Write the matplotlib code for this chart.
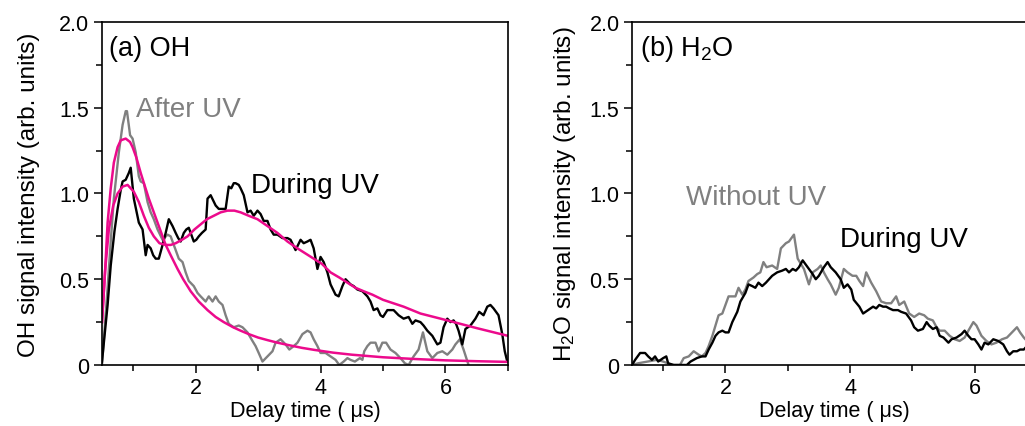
import matplotlib
matplotlib.use("Agg")
import matplotlib.pyplot as plt
from matplotlib.ticker import MultipleLocator, FuncFormatter

plt.rcParams['font.family'] = ['Liberation Sans', 'DejaVu Sans']
plt.rcParams['mathtext.fontset'] = 'custom'
plt.rcParams['mathtext.rm'] = 'Liberation Sans'
plt.rcParams['mathtext.it'] = 'Liberation Sans:italic'

# (a) OH, during UV (black)
oh_during_t = [0.50, 0.59, 0.64, 0.70, 0.75, 0.80, 0.83, 0.88, 0.93, 0.96, 1.01, 1.05, 1.09, 1.15,
               1.20, 1.23, 1.28, 1.32, 1.36, 1.41, 1.47, 1.52, 1.57, 1.60, 1.63, 1.68, 1.72, 1.76,
               1.81, 1.85, 1.89, 1.93, 1.97, 2.01, 2.05, 2.10, 2.16, 2.19, 2.24, 2.28, 2.32, 2.37,
               2.42, 2.48, 2.53, 2.57, 2.61, 2.64, 2.69, 2.72, 2.77, 2.83, 2.88, 2.93, 2.99, 3.04,
               3.09, 3.15, 3.20, 3.25, 3.31, 3.39, 3.47, 3.52, 3.60, 3.68, 3.73, 3.79, 3.84, 3.89,
               3.95, 4.00, 4.05, 4.11, 4.16, 4.24, 4.29, 4.35, 4.40, 4.48, 4.53, 4.59, 4.67, 4.75,
               4.80, 4.85, 4.91, 4.96, 5.00, 5.07, 5.17, 5.25, 5.33, 5.41, 5.47, 5.52, 5.60, 5.65,
               5.71, 5.79, 5.87, 5.92, 5.97, 6.03, 6.08, 6.13, 6.17, 6.21, 6.27, 6.32, 6.40, 6.48,
               6.54, 6.61, 6.67, 6.72, 6.77, 6.85, 6.91, 6.95, 6.99]
oh_during_v = [0.02, 0.35, 0.58, 0.78, 0.91, 1.02, 1.07, 1.08, 1.12, 1.15, 0.97, 0.90, 0.83, 0.79,
               0.64, 0.70, 0.68, 0.64, 0.62, 0.62, 0.70, 0.77, 0.85, 0.83, 0.81, 0.77, 0.74, 0.72,
               0.77, 0.79, 0.80, 0.76, 0.72, 0.73, 0.75, 0.77, 0.79, 0.97, 0.99, 0.96, 0.93, 0.91,
               0.91, 0.91, 1.04, 1.03, 1.06, 1.06, 1.05, 1.03, 0.99, 0.89, 0.90, 0.87, 0.90, 0.88,
               0.84, 0.84, 0.79, 0.76, 0.76, 0.74, 0.74, 0.73, 0.67, 0.73, 0.71, 0.72, 0.73, 0.68,
               0.56, 0.63, 0.60, 0.54, 0.47, 0.41, 0.40, 0.46, 0.50, 0.47, 0.46, 0.44, 0.43, 0.40,
               0.37, 0.32, 0.33, 0.29, 0.28, 0.32, 0.32, 0.29, 0.27, 0.28, 0.24, 0.26, 0.25, 0.23,
               0.20, 0.17, 0.12, 0.13, 0.22, 0.27, 0.25, 0.26, 0.24, 0.20, 0.12, 0.21, 0.23, 0.27,
               0.31, 0.29, 0.34, 0.35, 0.33, 0.29, 0.18, 0.08, 0.02]

# (a) OH, after UV (grey)
oh_after_t = [0.50, 0.59, 0.64, 0.69, 0.77, 0.83, 0.88, 0.90, 0.95, 0.99, 1.04, 1.09, 1.12, 1.17,
              1.23, 1.28, 1.33, 1.39, 1.47, 1.55, 1.60, 1.65, 1.73, 1.79, 1.84, 1.89, 1.97, 2.03,
              2.08, 2.16, 2.21, 2.27, 2.32, 2.37, 2.43, 2.48, 2.53, 2.61, 2.69, 2.75, 2.83, 2.91,
              2.96, 3.01, 3.07, 3.15, 3.23, 3.28, 3.36, 3.44, 3.50, 3.57, 3.63, 3.71, 3.79, 3.84,
              3.89, 3.95, 4.00, 4.08, 4.16, 4.24, 4.30, 4.37, 4.43, 4.48, 4.55, 4.63, 4.67, 4.70,
              4.75, 4.80, 4.88, 4.93, 4.99, 5.05, 5.12, 5.20, 5.28, 5.35, 5.41, 5.49, 5.57, 5.64,
              5.71, 5.79, 5.87, 5.95, 6.03, 6.11, 6.16, 6.23, 6.29, 6.37]
oh_after_v = [0.00, 0.45, 0.72, 0.97, 1.24, 1.40, 1.48, 1.48, 1.34, 1.32, 1.24, 1.10, 1.07, 1.06,
              0.95, 0.89, 0.85, 0.79, 0.73, 0.76, 0.75, 0.70, 0.62, 0.60, 0.54, 0.49, 0.46, 0.42,
              0.40, 0.37, 0.40, 0.37, 0.40, 0.37, 0.35, 0.29, 0.24, 0.22, 0.23, 0.22, 0.19, 0.14,
              0.11, 0.07, 0.02, 0.05, 0.08, 0.13, 0.15, 0.12, 0.09, 0.11, 0.13, 0.18, 0.20, 0.19,
              0.15, 0.11, 0.07, 0.07, 0.05, 0.03, 0.00, 0.02, 0.04, 0.03, 0.02, 0.04, 0.03, 0.08,
              0.11, 0.13, 0.13, 0.08, 0.13, 0.13, 0.09, 0.07, 0.04, 0.01, 0.00, 0.05, 0.09, 0.19,
              0.08, 0.04, 0.07, 0.08, 0.06, 0.09, 0.12, 0.15, 0.09, 0.00]

# fitted curves (pink)
fit_after_t = [0.50, 0.55, 0.59, 0.64, 0.69, 0.75, 0.80, 0.88, 0.95, 0.99, 1.05, 1.12, 1.18, 1.25,
               1.32, 1.39, 1.45, 1.52, 1.60, 1.71, 1.80, 1.92, 2.05, 2.19, 2.32, 2.45, 2.60, 2.72,
               2.85, 3.00, 3.15, 3.31, 3.50, 3.70, 3.90, 4.20, 4.50, 5.00, 5.50, 6.00, 6.50, 7.00]
fit_after_v = [0.25, 0.55, 0.83, 1.03, 1.18, 1.27, 1.31, 1.32, 1.30, 1.27, 1.21, 1.12, 1.05, 0.97,
               0.90, 0.83, 0.77, 0.70, 0.64, 0.56, 0.50, 0.43, 0.37, 0.32, 0.28, 0.25, 0.22, 0.20,
               0.18, 0.16, 0.145, 0.13, 0.115, 0.10, 0.088, 0.072, 0.06, 0.045, 0.035, 0.027, 0.022, 0.018]
fit_during_t = [0.50, 0.55, 0.61, 0.68, 0.75, 0.83, 0.91, 1.01, 1.09, 1.17, 1.25, 1.33, 1.42, 1.52,
                1.60, 1.68, 1.78, 1.87, 1.98, 2.08, 2.18, 2.29, 2.40, 2.51, 2.62, 2.72, 2.85, 2.99,
                3.15, 3.31, 3.47, 3.63, 3.76, 3.89, 4.02, 4.16, 4.30, 4.43, 4.56, 4.69, 4.83, 5.00,
                5.33, 5.60, 6.03, 6.50, 7.00]
fit_during_v = [0.25, 0.55, 0.79, 0.93, 1.00, 1.04, 1.05, 1.01, 0.95, 0.87, 0.80, 0.75, 0.71, 0.70,
                0.70, 0.71, 0.73, 0.75, 0.79, 0.82, 0.85, 0.87, 0.89, 0.90, 0.90, 0.89, 0.87, 0.85,
                0.81, 0.77, 0.72, 0.68, 0.65, 0.62, 0.59, 0.54, 0.51, 0.48, 0.45, 0.43, 0.41, 0.38,
                0.34, 0.30, 0.26, 0.215, 0.17]

# (b) H2O, during UV (black)
h2o_during_t = [0.50, 0.55, 0.63, 0.71, 0.76, 0.82, 0.87, 0.92, 1.00, 1.05, 1.08, 1.17, 1.38, 1.44,
                1.54, 1.62, 1.68, 1.73, 1.79, 1.84, 1.89, 1.95, 2.00, 2.05, 2.11, 2.19, 2.24, 2.32,
                2.37, 2.43, 2.48, 2.53, 2.59, 2.65, 2.70, 2.75, 2.83, 2.91, 2.97, 3.02, 3.08, 3.13,
                3.18, 3.24, 3.32, 3.40, 3.45, 3.50, 3.58, 3.64, 3.69, 3.77, 3.85, 3.90, 3.96, 4.02,
                4.06, 4.15, 4.21, 4.29, 4.37, 4.42, 4.47, 4.53, 4.58, 4.63, 4.69, 4.77, 4.82, 4.90,
                4.98, 5.03, 5.09, 5.17, 5.23, 5.27, 5.33, 5.39, 5.44, 5.50, 5.58, 5.63, 5.71, 5.79,
                5.84, 5.90, 5.95, 6.00, 6.06, 6.11, 6.16, 6.22, 6.30, 6.38, 6.46, 6.52, 6.56, 6.62,
                6.68, 6.73, 6.79, 6.84, 6.90]
h2o_during_v = [0.00, 0.03, 0.07, 0.07, 0.05, 0.03, 0.05, 0.02, 0.04, 0.05, 0.01, 0.00, 0.00, 0.02,
                0.04, 0.05, 0.05, 0.09, 0.13, 0.17, 0.19, 0.20, 0.19, 0.19, 0.25, 0.31, 0.37, 0.42,
                0.47, 0.46, 0.45, 0.48, 0.46, 0.48, 0.50, 0.52, 0.54, 0.55, 0.56, 0.54, 0.56, 0.55,
                0.57, 0.61, 0.57, 0.53, 0.50, 0.52, 0.57, 0.60, 0.57, 0.54, 0.50, 0.45, 0.47, 0.44,
                0.38, 0.34, 0.30, 0.32, 0.34, 0.33, 0.35, 0.34, 0.34, 0.33, 0.32, 0.32, 0.31, 0.30,
                0.26, 0.22, 0.20, 0.21, 0.25, 0.23, 0.21, 0.22, 0.17, 0.16, 0.13, 0.15, 0.16, 0.18,
                0.20, 0.17, 0.15, 0.15, 0.12, 0.09, 0.13, 0.12, 0.15, 0.14, 0.12, 0.08, 0.06, 0.08,
                0.08, 0.09, 0.09, 0.11, 0.12]

# (b) H2O, without UV (grey)
h2o_without_t = [0.50, 0.60, 0.75, 0.90, 1.00, 1.14, 1.27, 1.33, 1.41, 1.49, 1.57, 1.62, 1.68, 1.73,
                 1.79, 1.84, 1.89, 1.95, 2.00, 2.05, 2.11, 2.16, 2.21, 2.27, 2.32, 2.37, 2.45, 2.51,
                 2.56, 2.61, 2.66, 2.75, 2.83, 2.89, 2.97, 3.02, 3.10, 3.16, 3.21, 3.26, 3.34, 3.40,
                 3.48, 3.53, 3.58, 3.64, 3.69, 3.77, 3.82, 3.90, 3.96, 4.04, 4.10, 4.15, 4.21, 4.26,
                 4.34, 4.42, 4.50, 4.58, 4.66, 4.74, 4.79, 4.87, 4.95, 5.03, 5.11, 5.19, 5.25, 5.33,
                 5.39, 5.44, 5.52, 5.60, 5.68, 5.76, 5.84, 5.90, 5.98, 6.03, 6.11, 6.19, 6.27, 6.35,
                 6.44, 6.52, 6.60, 6.68, 6.73, 6.79, 6.84, 6.90]
h2o_without_v = [0.00, 0.01, 0.02, 0.03, 0.02, 0.00, 0.00, 0.04, 0.05, 0.08, 0.06, 0.05, 0.07, 0.11,
                 0.17, 0.23, 0.29, 0.30, 0.35, 0.40, 0.40, 0.40, 0.45, 0.41, 0.44, 0.49, 0.51, 0.53,
                 0.54, 0.60, 0.57, 0.58, 0.56, 0.68, 0.71, 0.72, 0.76, 0.62, 0.59, 0.56, 0.47, 0.54,
                 0.56, 0.58, 0.54, 0.50, 0.47, 0.41, 0.45, 0.56, 0.54, 0.52, 0.52, 0.49, 0.46, 0.54,
                 0.48, 0.43, 0.37, 0.36, 0.36, 0.40, 0.35, 0.37, 0.30, 0.28, 0.30, 0.29, 0.27, 0.26,
                 0.22, 0.20, 0.20, 0.17, 0.15, 0.14, 0.16, 0.20, 0.25, 0.23, 0.17, 0.14, 0.12, 0.13,
                 0.15, 0.16, 0.19, 0.22, 0.19, 0.16, 0.14, 0.13]

GREY = '#808080'
PINK = '#EC0A8C'


def style_axes(ax, ylabel, pad):
    ax.set_xlim(0.5, 7)
    ax.set_ylim(0, 2.0)
    ax.xaxis.set_major_locator(MultipleLocator(2))
    ax.xaxis.set_minor_locator(MultipleLocator(1))
    ax.yaxis.set_major_locator(MultipleLocator(0.5))
    ax.yaxis.set_minor_locator(MultipleLocator(0.25))
    ax.yaxis.set_major_formatter(FuncFormatter(lambda v, p: '0' if v == 0 else f'{v:.1f}'))
    ax.tick_params(which='both', direction='out', top=False, right=False, width=1.1,
                   labelsize=15.5, pad=3)
    ax.tick_params(which='major', length=6)
    ax.tick_params(which='minor', length=4)
    for s in ax.spines.values():
        s.set_linewidth(1.2)
    ax.set_xlabel('Delay time ( \u03bcs)', fontsize=15.5, labelpad=1)
    ax.set_ylabel(ylabel, fontsize=17.5, labelpad=pad)


fig = plt.figure(figsize=(10.25, 4.27), dpi=100)

ax1 = fig.add_axes([0.0995, 0.1429, 0.396, 0.8033])
ax1.plot(oh_after_t, oh_after_v, color=GREY, lw=1.7)
ax1.plot(oh_during_t, oh_during_v, color='black', lw=1.7)
ax1.plot(fit_after_t, fit_after_v, color=PINK, lw=1.8)
ax1.plot(fit_during_t, fit_during_v, color=PINK, lw=1.8)
style_axes(ax1, 'OH signal intensity (arb. units)', 14)
ax1.text(0.61, 1.81, '(a) OH', fontsize=19.5, ha='left', va='baseline')
ax1.text(1.04, 1.453, 'After UV', fontsize=20, color=GREY, ha='left', va='baseline')
ax1.text(2.88, 1.007, 'During UV', fontsize=20, ha='left', va='baseline')

ax2 = fig.add_axes([0.6166, 0.1429, 0.395, 0.8033])
ax2.plot(h2o_without_t, h2o_without_v, color=GREY, lw=1.7)
ax2.plot(h2o_during_t, h2o_during_v, color='black', lw=1.7)
style_axes(ax2, 'H$_\\mathregular{2}$O signal intensity (arb. units)', 8)
ax2.text(0.63, 1.81, '(b) H$_\\mathregular{2}$O', fontsize=19.5, ha='left', va='baseline')
ax2.text(1.36, 0.939, 'Without UV', fontsize=20, color=GREY, ha='left', va='baseline')
ax2.text(3.84, 0.696, 'During UV', fontsize=20, ha='left', va='baseline')

fig.savefig('out.png', dpi=100)
